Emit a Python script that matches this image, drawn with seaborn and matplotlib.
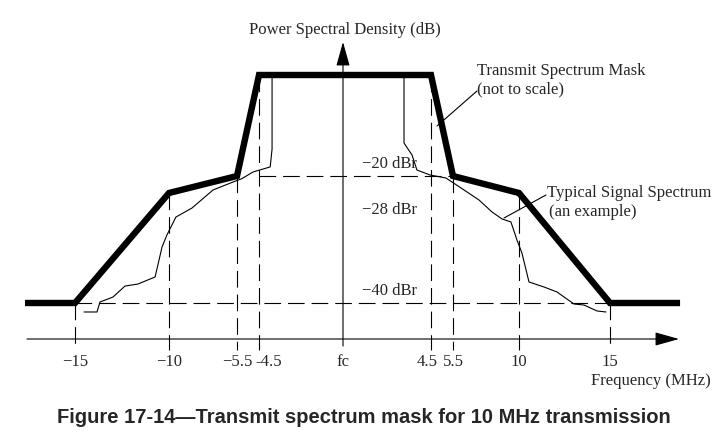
import numpy as np
import matplotlib
matplotlib.use("Agg")
import matplotlib.pyplot as plt
import seaborn as sns
import pandas as pd
from matplotlib.lines import Line2D
from matplotlib.transforms import blended_transform_factory

# ---------------- data ----------------
tick_freqs = [-15, -10, -5.5, -4.5, 0, 4.5, 5.5, 10, 15]
tick_labels = ["\u221215", "\u221210", "\u22125.5", "-4.5", "fc", "4.5", "5.5", "10", "15"]

mask_freq = [-17.66, -15, -10, -5.5, -4.5, 4.5, 5.5, 10, 15, 18.85]
mask_db = [-40, -40, -28, -20, 0, 0, -20, -28, -40, -40]

sig_freq = [-14.52, -13.83, -13.67, -12.98, -12.34, -11.65, -10.74, -10.37, -10.11,
            -9.54, -8.48, -7.09, -5.76, -5.27, -4.77, -3.90, -3.80, -3.80,
            3.12, 3.12, 3.53, 3.78, 4.45, 5.18, 6.05, 7.27, 8.16, 8.84, 9.45,
            9.86, 10.16, 10.55, 11.37, 12.09, 13.02, 13.57, 14.29, 14.78]
sig_db = [-40.98, -40.98, -39.89, -39.35, -38.15, -37.93, -37.16, -33.89, -32.58,
          -30.62, -29.64, -26.59, -22.82, -21.2, -19.2, -18.2, -14.65, -0.40,
          -0.40, -13.47, -15.84, -18.81, -19.80, -20.94, -25.65, -28.76, -30.07,
          -30.83, -31.16, -33.12, -34.54, -37.71, -38.25, -38.80, -40.11, -40.22,
          -40.87, -40.98]

ref_levels = [-20, -28, -40]
ref_labels = ["\u221220 dBr", "\u221228 dBr", "\u221240 dBr"]

# ---------------- schematic (not-to-scale) scales ----------------
W, H = 727, 444
FK = np.array([-100, -15, -10, -5.5, -4.5, 0, 4.5, 5.5, 10, 15, 100])
PXK = np.array([75 - 85 * 18.8, 75, 169, 237, 259, 343, 431, 453, 519, 610, 610 + 85 * 18.2])
DBK = np.array([-200, -40, -28, -20, 0, 200])
PYK = np.array([303 + 160 * 9.17, 303, 193, 176, 75, 75 - 200 * 5.05])

fx = lambda f: np.interp(f, FK, PXK)
fx_inv = lambda p: np.interp(p, PXK, FK)
fy = lambda d: -np.interp(d, DBK, PYK)
fy_inv = lambda t: np.interp(-np.asarray(t), PYK[::-1], DBK[::-1])

sns.set_style("white")
plt.rcParams["font.family"] = ["Liberation Serif", "DejaVu Serif"]
plt.rcParams["lines.scale_dashes"] = False

fig = plt.figure(figsize=(W / 100, H / 100), dpi=100)
ax = fig.add_axes([0, 0, 1, 1])
ax.set_xscale("function", functions=(fx, fx_inv))
ax.set_yscale("function", functions=(fy, fy_inv))
ax.set_xlim(float(fx_inv(0)), float(fx_inv(W)))
ax.set_ylim(float(fy_inv(-H)), float(fy_inv(0)))
ax.axis("off")

def P(x, y):
    return (x / W, 1 - y / H)

dash = (0, (12, 5))
lw_thin = 0.8
FS = 12

# dashed reference lines
bottom_db = float(fy_inv(-350))
for f in tick_freqs:
    if f == 0:
        continue
    top = float(np.interp(f, mask_freq, mask_db))
    ax.plot([f, f], [top, bottom_db], color="black", lw=lw_thin, linestyle=dash)
ax.plot([-4.5, 5.5], [-20, -20], color="black", lw=lw_thin, linestyle=dash)
ax.plot([-15, 15], [-40, -40], color="black", lw=lw_thin, linestyle=dash)

# signal + mask
sig_df = pd.DataFrame({"f": sig_freq, "db": sig_db})
mask_df = pd.DataFrame({"f": mask_freq, "db": mask_db})
sns.lineplot(data=sig_df, x="f", y="db", sort=False, estimator=None, errorbar=None,
             color="black", lw=0.8, ax=ax)
sns.lineplot(data=mask_df, x="f", y="db", sort=False, estimator=None, errorbar=None,
             color="black", lw=4.6, ax=ax,
             solid_joinstyle="miter", solid_capstyle="butt")
ax.set_xlabel("")
ax.set_ylabel("")

# axes arrows (figure pixels)
def arrow(x0, y0, x1, y1):
    ax.annotate("", xy=P(x1, y1), xytext=P(x0, y0), xycoords="figure fraction",
                textcoords="figure fraction",
                arrowprops=dict(arrowstyle="-|>,head_length=1.5,head_width=0.42",
                                mutation_scale=10, lw=lw_thin, color="black",
                                shrinkA=0, shrinkB=0))
arrow(27, 339, 679, 339)
arrow(343, 346, 343, 42)

# tick labels
tb = blended_transform_factory(ax.transData, ax.transAxes)
for f, lab in zip(tick_freqs, tick_labels):
    ha, dx = "center", 0
    if lab == "-4.5":
        ha, dx = "left", -0.15
    elif lab == "4.5":
        ha, dx = "right", 0.3
    ax.text(f + dx, 1 - 362 / H, lab, transform=tb, ha=ha, va="center", fontsize=FS)

# dB labels
for lev, lab, yy in zip(ref_levels, ref_labels, [164, 210, 291]):
    fig.text(*P(362, yy), lab, ha="left", va="center", fontsize=FS)

fig.text(*P(345, 30), "Power Spectral Density (dB)", ha="center", va="center", fontsize=FS)
fig.text(*P(477, 71), "Transmit Spectrum Mask", ha="left", va="center", fontsize=FS)
fig.text(*P(477, 89), "(not to scale)", ha="left", va="center", fontsize=FS)
fig.text(*P(547, 193), "Typical Signal Spectrum", ha="left", va="center", fontsize=FS)
fig.text(*P(549, 212), "(an example)", ha="left", va="center", fontsize=FS)
fig.text(*P(711, 381), "Frequency (MHz)", ha="right", va="center", fontsize=FS)
fig.text(*P(364, 417), "Figure 17-14\u2014Transmit spectrum mask for 10 MHz transmission",
         ha="center", va="center", fontsize=14.5, fontweight="bold",
         family=["Liberation Sans", "DejaVu Sans"])

# leader lines
for (x0, y0, x1, y1) in [(437, 126, 477, 91), (504, 218, 546, 195)]:
    fig.add_artist(Line2D([x0 / W, x1 / W], [1 - y0 / H, 1 - y1 / H],
                          color="black", lw=lw_thin, transform=fig.transFigure))

fig.savefig("out.png", dpi=100)
